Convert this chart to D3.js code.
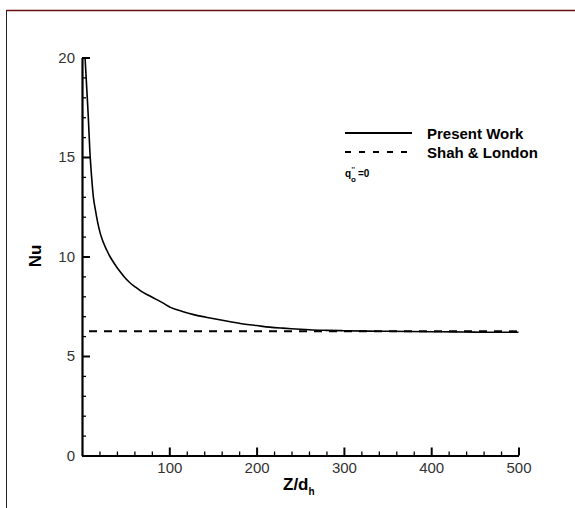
<!DOCTYPE html>
<html>
<head>
<meta charset="utf-8">
<script src="https://cdn.jsdelivr.net/npm/d3@7"></script>
<style>
  html, body { margin: 0; padding: 0; background: #fff; }
  svg { display: block; }
  text { font-family: "Liberation Sans", Arial, sans-serif; }
</style>
</head>
<body>
<svg id="chart" width="575" height="508"></svg>
<script>
// Axial position Z/d_h and local Nusselt number for the present computation
const zValues = [3.5, 4.5, 5.5, 7, 9, 11, 13, 15.5, 18, 21, 24.5, 28, 32, 37, 42, 48, 54, 61, 68, 76, 84, 92, 102, 115, 128, 142, 156, 170, 185, 200, 215, 230, 245, 260, 280, 300, 325, 350, 375, 400, 425, 450, 475, 500];
const nuValues = [20.0, 19.2, 18.4, 17.2, 15.3, 14.0, 13.0, 12.3, 11.7, 11.15, 10.7, 10.35, 10.0, 9.65, 9.33, 9.0, 8.72, 8.47, 8.25, 8.05, 7.87, 7.68, 7.43, 7.24, 7.08, 6.95, 6.83, 6.72, 6.61, 6.53, 6.45, 6.40, 6.36, 6.32, 6.29, 6.27, 6.25, 6.24, 6.23, 6.22, 6.21, 6.20, 6.19, 6.19];

// Fully developed reference value (Shah & London)
const shahZ = [0, 500];
const shahNu = [6.24, 6.24];

const xMajorTicks = [100, 200, 300, 400, 500];
const xMinorTicks = [20, 40, 60, 80, 120, 140, 160, 180, 220, 240, 260, 280, 320, 340, 360, 380, 420, 440, 460, 480];
const yMajorTicks = [0, 5, 10, 15, 20];
const yMinorTicks = [1, 2, 3, 4, 6, 7, 8, 9, 11, 12, 13, 14, 16, 17, 18, 19];

const legendLabels = ["Present Work", "Shah & London"];

const svg = d3.select("#chart");

// outer frame
svg.append("line").attr("x1", 6.5).attr("y1", 10.5).attr("x2", 575).attr("y2", 10.5)
  .attr("stroke", "#6b0d0d").attr("stroke-width", 1.5);
svg.append("line").attr("x1", 6.5).attr("y1", 10).attr("x2", 6.5).attr("y2", 508)
  .attr("stroke", "#222").attr("stroke-width", 1);

const x = d3.scaleLinear().domain([0, 500]).range([82, 518.5]);
const y = d3.scaleLinear().domain([0, 20]).range([455.5, 57.5]);

const g = svg.append("g");

// reference line
const shahLine = d3.line().x(d => x(d[0])).y(d => y(d[1]));
g.append("path")
  .datum(shahZ.map((z, i) => [z, shahNu[i]]))
  .attr("d", shahLine)
  .attr("fill", "none").attr("stroke", "#000").attr("stroke-width", 2)
  .attr("stroke-dasharray", "8,7").attr("stroke-dashoffset", -7);

// present work curve
const curve = d3.line().x(d => x(d[0])).y(d => y(d[1])).curve(d3.curveMonotoneX);
g.append("path")
  .datum(zValues.map((z, i) => [z, nuValues[i]]))
  .attr("d", curve)
  .attr("fill", "none").attr("stroke", "#000").attr("stroke-width", 1.6);

// x axis (ticks point into the plot)
const xAxis = d3.axisBottom(x).tickValues(xMajorTicks).tickSizeInner(-8).tickSizeOuter(0).tickPadding(7);
const gx = svg.append("g").attr("transform", `translate(0,${y(0)})`).call(xAxis);
gx.select(".domain").attr("stroke-width", 2.2).attr("stroke", "#000");
gx.selectAll(".tick line").attr("stroke-width", 2).attr("stroke", "#000");
gx.selectAll(".tick text").attr("font-size", 15).attr("fill", "#333")
  .style("font-family", "'Liberation Sans', Arial, sans-serif");
const xMinor = d3.axisBottom(x).tickValues(xMinorTicks).tickSizeInner(-4).tickSizeOuter(0).tickFormat("");
const gxm = svg.append("g").attr("transform", `translate(0,${y(0)})`).call(xMinor);
gxm.select(".domain").remove();
gxm.selectAll(".tick line").attr("stroke-width", 1.3).attr("stroke", "#000");

// y axis
const yAxis = d3.axisLeft(y).tickValues(yMajorTicks).tickSizeInner(-8).tickSizeOuter(0).tickPadding(7);
const gy = svg.append("g").attr("transform", `translate(${x(0)},0)`).call(yAxis);
gy.select(".domain").attr("stroke-width", 2.2).attr("stroke", "#000");
gy.selectAll(".tick line").attr("stroke-width", 2).attr("stroke", "#000");
gy.selectAll(".tick text").attr("font-size", 15).attr("fill", "#333")
  .style("font-family", "'Liberation Sans', Arial, sans-serif");
const yMinor = d3.axisLeft(y).tickValues(yMinorTicks).tickSizeInner(-4).tickSizeOuter(0).tickFormat("");
const gym = svg.append("g").attr("transform", `translate(${x(0)},0)`).call(yMinor);
gym.select(".domain").remove();
gym.selectAll(".tick line").attr("stroke-width", 1.3).attr("stroke", "#000");

// axis titles
const xt = svg.append("text").attr("x", 283).attr("y", 490)
  .attr("font-size", 17).attr("font-weight", "bold").attr("fill", "#000");
xt.append("tspan").text("Z/d");
xt.append("tspan").attr("dy", 5).attr("font-size", 10).text("h");

svg.append("text").attr("transform", "translate(41,256) rotate(-90)")
  .attr("text-anchor", "middle").attr("font-size", 17).attr("font-weight", "bold")
  .attr("fill", "#000").text("Nu");

// legend
const leg = svg.append("g");
const legendDash = [null, "6,8"];
legendLabels.forEach((lab, i) => {
  const ly = 133 + i * 19;
  leg.append("line").attr("x1", 345).attr("x2", 412).attr("y1", ly).attr("y2", ly)
    .attr("stroke", "#000").attr("stroke-width", 2)
    .attr("stroke-dasharray", legendDash[i]);
  leg.append("text").attr("x", 427).attr("y", ly + 5.5)
    .attr("font-size", 15).attr("font-weight", "bold").attr("fill", "#000").text(lab);
});

// boundary condition note: q''_o = 0
const note = svg.append("g").attr("font-weight", "bold").attr("fill", "#000");
note.append("text").attr("x", 345).attr("y", 177).attr("font-size", 10).text("q");
note.append("text").attr("x", 351.5).attr("y", 172).attr("font-size", 7).text("''");
note.append("text").attr("x", 351).attr("y", 181.5).attr("font-size", 8).text("o");
note.append("text").attr("x", 358).attr("y", 177).attr("font-size", 10).text("=0");
</script>
</body>
</html>
